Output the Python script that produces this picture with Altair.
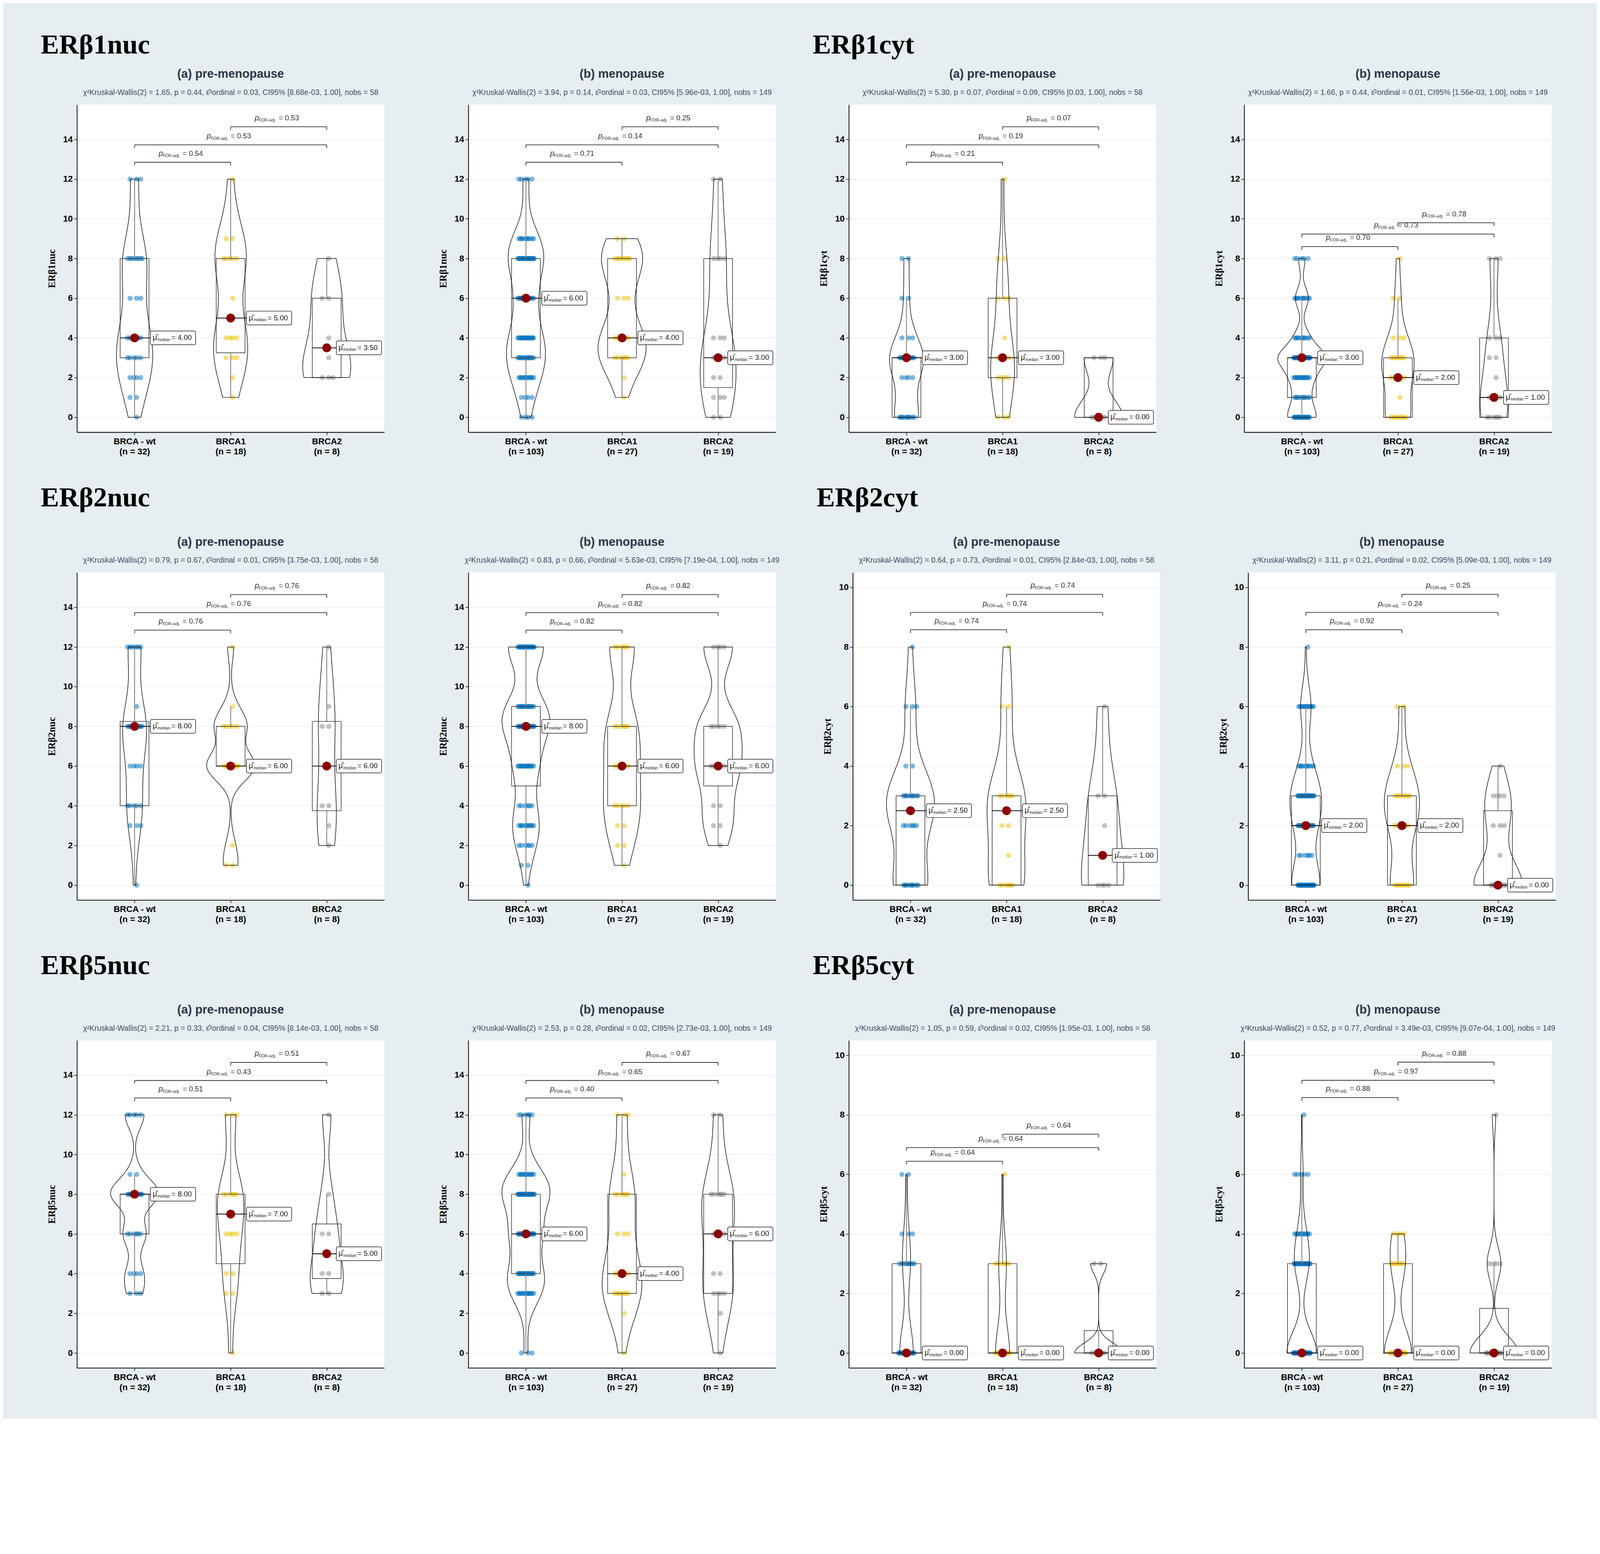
import json
import altair as alt
import numpy as np
import pandas as pd

GROUPS = ["BRCA - wt", "BRCA1", "BRCA2"]
JCO = ["#0073C2", "#EFC000", "#868686"]
N_PRE = [32, 18, 8]
N_MENO = [103, 27, 19]

# ---- observed scores: {score: count} per group (BRCA-wt, BRCA1, BRCA2) ----
b1nuc_pre = [{0: 1, 1: 2, 2: 4, 3: 5, 4: 6, 6: 3, 8: 8, 12: 3},
             {1: 1, 2: 1, 3: 3, 4: 4, 6: 1, 8: 5, 9: 2, 12: 1},
             {2: 3, 3: 1, 4: 1, 6: 2, 8: 1}]
b1nuc_meno = [{0: 4, 1: 4, 2: 12, 3: 14, 4: 17, 6: 15, 8: 22, 9: 10, 12: 5},
              {1: 1, 2: 1, 3: 6, 4: 6, 6: 3, 8: 8, 9: 2},
              {0: 2, 1: 3, 2: 2, 3: 3, 4: 3, 8: 4, 12: 2}]
b1cyt_pre = [{0: 10, 2: 4, 3: 11, 4: 3, 6: 2, 8: 2},
             {0: 3, 2: 4, 3: 4, 4: 1, 6: 3, 8: 2, 12: 1},
             {0: 5, 3: 3}]
b1cyt_meno = [{0: 20, 1: 10, 2: 15, 3: 33, 4: 10, 6: 10, 8: 5},
              {0: 8, 1: 1, 2: 5, 3: 7, 4: 3, 6: 2, 8: 1},
              {0: 6, 1: 4, 2: 1, 3: 2, 4: 3, 8: 3}]
b2nuc_pre = [{0: 1, 3: 3, 4: 5, 6: 4, 8: 11, 9: 1, 12: 7},
             {1: 2, 2: 1, 6: 8, 8: 5, 9: 1, 12: 1},
             {2: 1, 3: 1, 4: 2, 8: 2, 9: 1, 12: 1}]
b2nuc_meno = [{0: 1, 1: 2, 2: 6, 3: 11, 4: 6, 6: 15, 8: 22, 9: 15, 12: 25},
              {1: 1, 2: 2, 3: 2, 4: 5, 6: 5, 8: 6, 12: 6},
              {2: 1, 3: 2, 4: 2, 6: 5, 8: 5, 12: 4}]
b2cyt_pre = [{0: 10, 2: 6, 3: 10, 4: 2, 6: 3, 8: 1},
             {0: 6, 1: 1, 2: 2, 3: 6, 6: 2, 8: 1},
             {0: 4, 2: 1, 3: 2, 6: 1}]
b2cyt_meno = [{0: 30, 1: 6, 2: 18, 3: 26, 4: 10, 6: 12, 8: 1},
              {0: 8, 2: 6, 3: 8, 4: 3, 6: 2},
              {0: 10, 1: 1, 2: 3, 3: 4, 4: 1}]
b5nuc_pre = [{3: 3, 4: 4, 6: 6, 8: 12, 9: 2, 12: 5},
             {0: 1, 3: 2, 4: 2, 6: 4, 8: 6, 12: 3},
             {3: 2, 4: 2, 6: 2, 8: 1, 12: 1}]
b5nuc_meno = [{0: 3, 3: 14, 4: 18, 6: 22, 8: 28, 9: 12, 12: 6},
              {0: 1, 2: 1, 3: 7, 4: 5, 6: 3, 8: 6, 9: 1, 12: 3},
              {0: 1, 2: 1, 3: 4, 4: 2, 6: 3, 8: 6, 12: 2}]
b5cyt_pre = [{0: 18, 3: 9, 4: 3, 6: 2},
             {0: 11, 3: 6, 6: 1},
             {0: 6, 3: 2}]
b5cyt_meno = [{0: 60, 3: 25, 4: 12, 6: 5, 8: 1},
              {0: 16, 3: 7, 4: 4},
              {0: 14, 3: 4, 8: 1}]

# ---- test statistics (chi2, p, epsilon2, CI low, n) ----
stats_b1nuc_pre = ["1.65", "0.44", "0.03", "8.68e-03", "58"]
stats_b1nuc_meno = ["3.94", "0.14", "0.03", "5.96e-03", "149"]
stats_b1cyt_pre = ["5.30", "0.07", "0.09", "0.03", "58"]
stats_b1cyt_meno = ["1.66", "0.44", "0.01", "1.56e-03", "149"]
stats_b2nuc_pre = ["0.79", "0.67", "0.01", "3.75e-03", "58"]
stats_b2nuc_meno = ["0.83", "0.66", "5.63e-03", "7.19e-04", "149"]
stats_b2cyt_pre = ["0.64", "0.73", "0.01", "2.84e-03", "58"]
stats_b2cyt_meno = ["3.11", "0.21", "0.02", "5.09e-03", "149"]
stats_b5nuc_pre = ["2.21", "0.33", "0.04", "8.14e-03", "58"]
stats_b5nuc_meno = ["2.53", "0.28", "0.02", "2.73e-03", "149"]
stats_b5cyt_pre = ["1.05", "0.59", "0.02", "1.95e-03", "58"]
stats_b5cyt_meno = ["0.52", "0.77", "3.49e-03", "9.07e-04", "149"]

# ---- pairwise FDR-adjusted p (wt-1, wt-2, 1-2) and bracket heights ----
p_b1nuc_pre = ["0.54", "0.53", "0.53"]
p_b1nuc_meno = ["0.71", "0.14", "0.25"]
p_b1cyt_pre = ["0.21", "0.19", "0.07"]
p_b1cyt_meno = ["0.70", "0.73", "0.78"]
p_b2nuc_pre = ["0.76", "0.76", "0.76"]
p_b2nuc_meno = ["0.82", "0.82", "0.82"]
p_b2cyt_pre = ["0.74", "0.74", "0.74"]
p_b2cyt_meno = ["0.92", "0.24", "0.25"]
p_b5nuc_pre = ["0.51", "0.43", "0.51"]
p_b5nuc_meno = ["0.40", "0.65", "0.67"]
p_b5cyt_pre = ["0.64", "0.64", "0.64"]
p_b5cyt_meno = ["0.88", "0.97", "0.88"]

br_high14 = [12.85, 13.73, 14.64]
br_low14 = [8.6, 9.23, 9.8]
br_10 = [8.58, 9.16, 9.77]
br_low10 = [6.44, 6.9, 7.35]

SANS = "Liberation Sans"
SERIF = "Liberation Serif"
W, H = 850, 905


def nrd0(x):
    x = np.asarray(x, float)
    sd = x.std(ddof=1)
    q75, q25 = np.percentile(x, [75, 25])
    iqr = (q75 - q25) / 1.34
    lo = min(sd, iqr) if iqr > 0 else sd
    if lo <= 0:
        lo = 1.0
    return 0.9 * lo * len(x) ** -0.2


def stat_line(s):
    chi, p, eps, lo, n = s
    return (f"χ²Kruskal-Wallis(2) = {chi}, p = {p}, ε̂²ordinal = {eps}, "
            f"CI95% [{lo}, 1.00], nobs = {n}")


def panel(counts, ns, title, stats, pvals, bys, ymax, ytitle, section=None, sec_y=-164):
    rows = []
    for gi, cnt in enumerate(counts, start=1):
        vals = [v for v, c in cnt.items() for _ in range(c)]
        bw = nrd0(vals)
        for v in vals:
            rows.append({"gi": gi, "group": GROUPS[gi - 1], "value": v, "bw": bw})
    df = pd.DataFrame(rows)

    labs = [[g, f"(n = {n})"] for g, n in zip(GROUPS, ns)]
    lexpr = (f"datum.value == 1 ? {json.dumps(labs[0])} : datum.value == 2 ? "
             f"{json.dumps(labs[1])} : {json.dumps(labs[2])}")
    xs = alt.Scale(domain=[0.4, 3.6], nice=False, zero=False)
    if ymax == 14:
        ydom = [-0.75, 15.75]
    else:
        ydom = [-0.5, 10.5]
    ys = alt.Scale(domain=ydom, nice=False, zero=False)
    xaxis = alt.Axis(values=[1, 2, 3], labelExpr=lexpr, title=None, grid=False)
    yaxis = alt.Axis(values=list(range(0, ymax + 1, 2)), title=ytitle, grid=True)

    def X(f):
        return alt.X(f, type="quantitative", scale=xs, axis=xaxis)

    def Y(f):
        return alt.Y(f, type="quantitative", scale=ys, axis=yaxis)

    base = alt.Chart(df)

    pts = base.transform_window(
        k="row_number()", groupby=["gi", "value"]
    ).transform_calculate(
        xj="datum.gi + (((datum.k * 0.618034) % 1) - 0.5) * 0.18"
    ).mark_circle(size=200, opacity=0.5).encode(
        x=X("xj"), y=Y("value"),
        color=alt.Color("group:N", scale=alt.Scale(domain=GROUPS, range=JCO), legend=None),
    )

    st = base.transform_joinaggregate(
        q1="q1(value)", q3="q3(value)", med="median(value)", groupby=["gi"]
    ).transform_filter(
        "datum.value >= datum.q1 - 1.5*(datum.q3-datum.q1) && datum.value <= datum.q3 + 1.5*(datum.q3-datum.q1)"
    ).transform_aggregate(
        lo="min(value)", hi="max(value)", Q1="min(q1)", Q3="min(q3)", M="min(med)", groupby=["gi"]
    ).transform_calculate(
        bl="datum.gi - 0.15", br="datum.gi + 0.15",
        lx="min(datum.gi + 0.165, 3.1)", rx="min(datum.gi + 0.165, 3.1) + 0.47",
        lab="'= ' + format(datum.M, '.2f')",
    )
    w1 = st.mark_rule(color="#8a8a8a", strokeWidth=2.5).encode(x=X("gi"), y=Y("lo"), y2="Q1")
    w2 = st.mark_rule(color="#8a8a8a", strokeWidth=2.5).encode(x=X("gi"), y=Y("Q3"), y2="hi")
    box = st.mark_rect(fillOpacity=0, stroke="#444444", strokeWidth=1.8).encode(
        x=X("bl"), x2="br", y=Y("Q1"), y2="Q3")
    medline = st.mark_rule(color="#111111", strokeWidth=2.2).encode(x=X("bl"), x2="lx", y=Y("M"))

    vio = base.transform_calculate(z="datum.value / datum.bw").transform_density(
        "z", groupby=["gi", "bw"], steps=200, bandwidth=1, resolve="independent",
        as_=["zv", "zd"]
    ).transform_calculate(
        v="datum.zv * datum.bw", d="datum.zd / datum.bw"
    ).transform_joinaggregate(maxd="max(d)").transform_calculate(
        xl="datum.gi - 0.25 * datum.d / datum.maxd",
        xr="datum.gi + 0.25 * datum.d / datum.maxd",
    ).mark_area(orient="horizontal", fillOpacity=0, stroke="#111111", strokeWidth=1.6,
                strokeJoin="round").encode(
        y=Y("v"), x=X("xl"), x2="xr", detail="gi:N")

    meddot = st.mark_circle(size=600, color="#8B0000", opacity=1).encode(x=X("gi"), y=Y("M"))
    labrect = st.mark_rect(fill="white", stroke="#222222", strokeWidth=1.6, cornerRadius=4,
                           yOffset=19, y2Offset=-19).encode(x=X("lx"), x2="rx", y=Y("M"), y2="M")
    t1 = st.mark_text(align="left", baseline="middle", dx=6, fontSize=21, font=SANS,
                      color="#222222").encode(x=X("lx"), y=Y("M"), text=alt.value("μ̂"))
    t2 = st.mark_text(align="left", baseline="middle", dx=19, dy=6, fontSize=11, font=SANS,
                      color="#222222").encode(x=X("lx"), y=Y("M"), text=alt.value("median"))
    t3 = st.mark_text(align="left", baseline="middle", dx=58, fontSize=20, font=SANS,
                      color="#222222").encode(x=X("lx"), y=Y("M"), text="lab:N")

    bdf = pd.DataFrame({"x1": [1, 1, 2], "x2": [2, 3, 3], "yb": bys, "p": pvals})
    bb = alt.Chart(bdf).transform_calculate(xm="(datum.x1 + datum.x2) / 2", ptxt="'= ' + datum.p")
    b1 = bb.mark_rule(color="#333333", strokeWidth=2).encode(x=X("x1"), x2="x2", y=Y("yb"))
    b2 = bb.mark_rule(color="#333333", strokeWidth=2, y2Offset=9).encode(x=X("x1"), y=Y("yb"), y2="yb")
    b3 = bb.mark_rule(color="#333333", strokeWidth=2, y2Offset=9).encode(x=X("x2"), y=Y("yb"), y2="yb")
    bt1 = bb.mark_text(align="left", baseline="middle", dx=-66, dy=-24, fontSize=21, font=SANS,
                       fontStyle="italic", color="#333333").encode(x=X("xm"), y=Y("yb"), text=alt.value("p"))
    bt2 = bb.mark_text(align="left", baseline="middle", dx=-55, dy=-18, fontSize=12, font=SANS,
                       color="#333333").encode(x=X("xm"), y=Y("yb"), text=alt.value("FDR-adj."))
    bt3 = bb.mark_text(align="left", baseline="middle", dx=0, dy=-24, fontSize=20, font=SANS,
                       color="#333333").encode(x=X("xm"), y=Y("yb"), text="ptxt:N")

    tdf = pd.DataFrame({"title": [title], "stats": [stat_line(stats)]})
    tt = alt.Chart(tdf)
    ttl = tt.mark_text(align="center", baseline="middle", fontSize=33, fontWeight="bold",
                       font=SANS, color="#2b3548").encode(
        x=alt.value(W / 2), y=alt.value(-84), text="title:N")
    sub = tt.mark_text(align="center", baseline="middle", fontSize=21, font=SANS,
                       color="#3d4e66").encode(
        x=alt.value(W / 2), y=alt.value(-33), text="stats:N")

    layers = [pts, w1, w2, box, medline, vio, meddot, labrect, t1, t2, t3,
              b1, b2, b3, bt1, bt2, bt3, ttl, sub]
    if section is not None:
        sdf = pd.DataFrame({"sec": [section]})
        layers.append(alt.Chart(sdf).mark_text(
            align="left", baseline="middle", fontSize=76, fontWeight="bold", font=SERIF,
            color="black").encode(x=alt.value(-100), y=alt.value(sec_y), text="sec:N"))
    return alt.layer(*layers).properties(width=W, height=H)


PRE = "(a) pre-menopause"
MENO = "(b) menopause"


def row(sa, ca, sb, cb, sec_y):
    (cnt1, st1, p1, by1, ym1), (cnt2, st2, p2, by2, ym2) = ca
    (cnt3, st3, p3, by3, ym3), (cnt4, st4, p4, by4, ym4) = cb
    s1 = alt.hconcat(
        panel(cnt1, N_PRE, PRE, st1, p1, by1, ym1, sa, section=sa, sec_y=sec_y),
        panel(cnt2, N_MENO, MENO, st2, p2, by2, ym2, sa), spacing=149)
    s2 = alt.hconcat(
        panel(cnt3, N_PRE, PRE, st3, p3, by3, ym3, sb, section=sb, sec_y=sec_y),
        panel(cnt4, N_MENO, MENO, st4, p4, by4, ym4, sb), spacing=160)
    return alt.hconcat(s1, s2, spacing=102)


row1 = row("ERβ1nuc",
           [(b1nuc_pre, stats_b1nuc_pre, p_b1nuc_pre, br_high14, 14),
            (b1nuc_meno, stats_b1nuc_meno, p_b1nuc_meno, br_high14, 14)],
           "ERβ1cyt",
           [(b1cyt_pre, stats_b1cyt_pre, p_b1cyt_pre, br_high14, 14),
            (b1cyt_meno, stats_b1cyt_meno, p_b1cyt_meno, br_low14, 14)], -164)
row2 = row("ERβ2nuc",
           [(b2nuc_pre, stats_b2nuc_pre, p_b2nuc_pre, br_high14, 14),
            (b2nuc_meno, stats_b2nuc_meno, p_b2nuc_meno, br_high14, 14)],
           "ERβ2cyt",
           [(b2cyt_pre, stats_b2cyt_pre, p_b2cyt_pre, br_10, 10),
            (b2cyt_meno, stats_b2cyt_meno, p_b2cyt_meno, br_10, 10)], -206)
row3 = row("ERβ5nuc",
           [(b5nuc_pre, stats_b5nuc_pre, p_b5nuc_pre, br_high14, 14),
            (b5nuc_meno, stats_b5nuc_meno, p_b5nuc_meno, br_high14, 14)],
           "ERβ5cyt",
           [(b5cyt_pre, stats_b5cyt_pre, p_b5cyt_pre, br_low10, 10),
            (b5cyt_meno, stats_b5cyt_meno, p_b5cyt_meno, br_10, 10)], -206)

chart = alt.vconcat(row1, row2, row3, spacing=78).properties(
    padding={"left": 104, "top": -66, "right": 114, "bottom": -70},
    background="#e7eef1",
).configure_view(stroke=None, fill="white").configure_axis(
    labelFont=SANS, labelFontWeight="bold", labelColor="black", labelFontSize=24,
    tickColor="#333333", tickWidth=2, tickSize=8, domainColor="#222222", domainWidth=2.5,
).configure_axisY(
    gridColor="#ececec", gridWidth=1.5, titleFont=SERIF, titleFontSize=27,
    titleFontWeight="bold", titleColor="black", titlePadding=16, labelPadding=4,
).configure_axisX(labelLineHeight=28, labelPadding=6)

chart.save("out.html", embed_options={"renderer": "svg", "actions": False})
